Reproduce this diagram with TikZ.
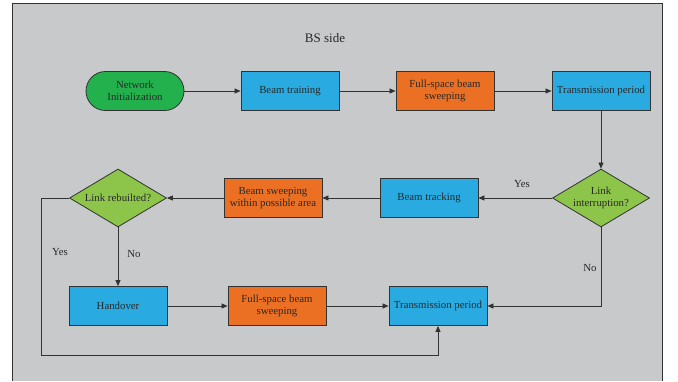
\documentclass[tikz,border=0pt]{standalone}
\usepackage{fontspec}
\setmainfont{Liberation Serif}
\usetikzlibrary{shapes.geometric,arrows.meta}
\definecolor{bggray}{RGB}{200,201,203}
\definecolor{nodegreen}{RGB}{34,177,76}
\definecolor{nodeblue}{RGB}{41,171,226}
\definecolor{nodeorange}{RGB}{236,112,36}
\definecolor{diagreen}{RGB}{141,197,75}
\definecolor{linecol}{RGB}{50,50,50}
\definecolor{txtcol}{RGB}{40,40,40}
\tikzset{
  base/.style={draw=linecol, line width=0.8pt, text=txtcol, font=\fontsize{10.8}{12.5}\selectfont, align=center, inner sep=1pt},
  bluebox/.style={base, fill=nodeblue, minimum width=98pt, minimum height=39pt},
  orangebox/.style={base, fill=nodeorange, minimum width=98pt, minimum height=39pt},
  startbox/.style={base, fill=nodegreen, rounded corners=19.5pt, minimum width=98pt, minimum height=39pt},
  decision/.style={base, fill=diagreen, diamond, aspect=1.7, minimum width=97pt, minimum height=58pt, inner sep=0pt},
  flow/.style={draw=linecol, line width=0.7pt, -{Triangle[length=6pt,width=5pt]}},
  lbl/.style={text=txtcol, font=\fontsize{10.8}{12.5}\selectfont, inner sep=0pt},
}
\begin{document}
\begin{tikzpicture}[x=1pt,y=-1pt]
\useasboundingbox (0,0) rectangle (678,381);
\fill[white] (0,0) rectangle (678,381);
\fill[bggray] (12,3) rectangle (662,381);
\draw[linecol, line width=0.8pt] (12,381) -- (12,3) -- (662,3) -- (662,381);
\node[lbl, font=\fontsize{13}{15}\selectfont] (title) at (325,38) {BS side};
% row 1
\node[startbox] (init) at (135,91) {Network\\Initialization};
\node[bluebox] (train) at (290,91) {Beam training};
\node[orangebox] (fs1) at (445,91) {Full-space beam\\sweeping};
\node[bluebox] (tp1) at (601,91) {Transmission period};
% row 2
\node[decision] (li) at (601,198) {Link\\interruption?};
\node[bluebox] (track) at (429,198) {Beam tracking};
\node[orangebox] (bsw) at (273,198) {Beam sweeping\\within possible area};
\node[decision] (lr) at (118,198) {Link rebuilted?};
% row 3
\node[bluebox] (ho) at (118,306) {Handover};
\node[orangebox] (fs2) at (277,306) {Full-space beam\\sweeping};
\node[bluebox] (tp2) at (438,306) {Transmission period};
\coordinate (c1) at (41,198);
\coordinate (c2) at (41,355);
\coordinate (c3) at (438,355);
\coordinate (c4) at (601,306);
% connectors
\draw[flow] (init) -- (train);
\draw[flow] (train) -- (fs1);
\draw[flow] (fs1) -- (tp1);
\draw[flow] (tp1) -- (li);
\draw[flow] (li) -- (track);
\draw[flow] (track) -- (bsw);
\draw[flow] (bsw) -- (lr);
\draw[flow] (lr) -- (ho);
\draw[flow] (ho) -- (fs2);
\draw[flow] (fs2) -- (tp2);
\draw[flow] (li.south) -- (c4) -- (tp2.east);
\draw[flow] (lr.west) -- (c1) -- (c2) -- (c3) -- (tp2.south);
% labels
\node[lbl] (yes1) at (522,184) {Yes};
\node[lbl] (yes2) at (60,252) {Yes};
\node[lbl] (no1) at (134,254) {No};
\node[lbl] (no2) at (590,268) {No};
\end{tikzpicture}
\end{document}
